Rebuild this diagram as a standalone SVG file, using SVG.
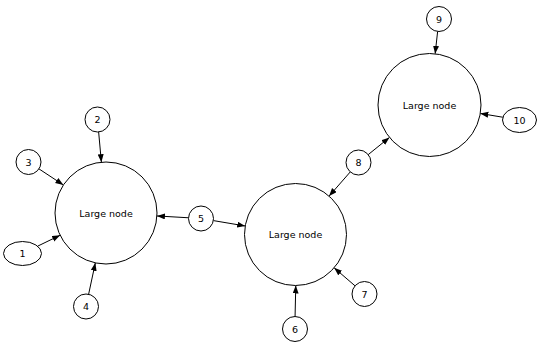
<svg xmlns="http://www.w3.org/2000/svg" width="540" height="346" viewBox="0 0 540 346">
<style>
.n{fill:#fff;stroke:#000;stroke-width:1}
.t{font-family:"DejaVu Sans",sans-serif;font-size:9.5px;text-anchor:middle;fill:#000}
.e{stroke:#000;stroke-width:1;fill:none;marker-end:url(#a)}
</style>
<defs>
<marker id="a" markerUnits="userSpaceOnUse" markerWidth="9" markerHeight="7" refX="8" refY="3" orient="auto">
<path d="M0,0 L8,3 L0,6 z" fill="#000"/>
</marker>
</defs>
<rect width="540" height="346" fill="#fff"/>
<g id="edges">
<line class="e" x1="98.63" y1="131.95" x2="101.38" y2="162.21"/>
<line class="e" x1="38.94" y1="168.87" x2="63.4" y2="184.97"/>
<line class="e" x1="37.57" y1="246.19" x2="60.12" y2="235.26"/>
<line class="e" x1="88.62" y1="294.28" x2="95.33" y2="262.87"/>
<line class="e" x1="188.52" y1="217.78" x2="156.91" y2="215.95"/>
<line class="e" x1="213.33" y1="220.59" x2="245.21" y2="225.98"/>
<line class="e" x1="350.27" y1="171.91" x2="329.08" y2="196.12"/>
<line class="e" x1="368.21" y1="154.63" x2="389.48" y2="137.41"/>
<line class="e" x1="355.03" y1="285.84" x2="334.12" y2="267.81"/>
<line class="e" x1="295.07" y1="316.5" x2="295.77" y2="285.5"/>
<line class="e" x1="437.63" y1="31.43" x2="435.15" y2="53.81"/>
<line class="e" x1="502.92" y1="117.24" x2="480.3" y2="113.47"/>
</g>
<g id="nodeA"><circle class="n" cx="106" cy="213" r="51"/><text class="t" x="106" y="216.5">Large node</text></g>
<g id="nodeB"><circle class="n" cx="295.5" cy="234.5" r="51"/><text class="t" x="295.5" y="238">Large node</text></g>
<g id="nodeC"><circle class="n" cx="429.5" cy="105" r="51.5"/><text class="t" x="429.5" y="108.5">Large node</text></g>
<g id="n1"><ellipse class="n" cx="22.5" cy="253.5" rx="19" ry="12"/><text class="t" x="22.5" y="257">1</text></g>
<g id="n2"><circle class="n" cx="97.5" cy="119.5" r="12.5"/><text class="t" x="97.5" y="123">2</text></g>
<g id="n3"><circle class="n" cx="28.5" cy="162" r="12.5"/><text class="t" x="28.5" y="165.5">3</text></g>
<g id="n4"><circle class="n" cx="86" cy="306.5" r="12.5"/><text class="t" x="86" y="310">4</text></g>
<g id="n5"><circle class="n" cx="201" cy="218.5" r="12.5"/><text class="t" x="201" y="222">5</text></g>
<g id="n6"><circle class="n" cx="295" cy="329" r="12.5"/><text class="t" x="295" y="332.5">6</text></g>
<g id="n7"><circle class="n" cx="364.5" cy="294" r="12.5"/><text class="t" x="364.5" y="297.5">7</text></g>
<g id="n8"><circle class="n" cx="358.5" cy="162.5" r="12.5"/><text class="t" x="358.5" y="166">8</text></g>
<g id="n9"><circle class="n" cx="439" cy="19" r="12.5"/><text class="t" x="439" y="22.5">9</text></g>
<g id="n10"><ellipse class="n" cx="519.5" cy="120" rx="17" ry="12.5"/><text class="t" x="519.5" y="123.5">10</text></g>
</svg>
